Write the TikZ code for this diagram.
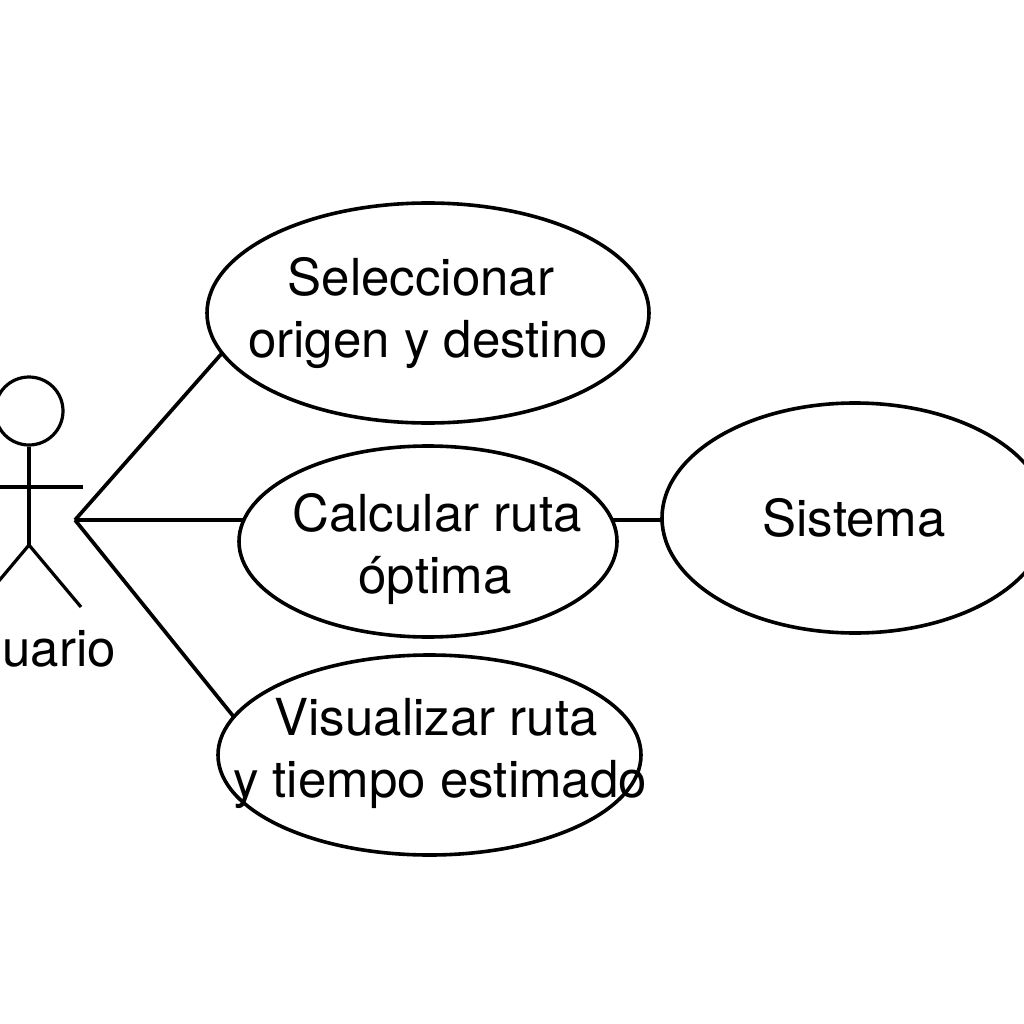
\documentclass[tikz,border=0pt]{standalone}
\usepackage{fontspec}
\setmainfont{TeX Gyre Heros}
\usetikzlibrary{shapes.geometric}
\tikzset{
  usecase/.style={ellipse,draw=black,line width=3.6pt,inner sep=0pt,outer sep=0pt},
  lbl/.style={anchor=base,inner sep=0pt,font=\fontsize{51}{60}\selectfont,text=black},
  conn/.style={draw=black,line width=3.7pt},
  stick/.style={draw=black,line width=3.2pt}
}
\begin{document}
\begin{tikzpicture}[x=1pt,y=-1pt]
\useasboundingbox[fill=white] (0,0) rectangle (1024,1024);
\clip (0,0) rectangle (1024,1024);
% actor
\node[circle,draw=black,line width=3.2pt,inner sep=0pt,minimum size=68pt] (head) at (29,411) {};
\coordinate (hip) at (29,545);
\coordinate (armL) at (-25,487);
\coordinate (armR) at (83,487);
\coordinate (legL) at (-23,607);
\coordinate (legR) at (81,607);
\coordinate (hub) at (75,520);
\draw[stick] (head.south) -- (hip);
\draw[stick] (armL) -- (armR);
\draw[stick] (legL) -- (hip) -- (legR);
\node[lbl] (actor) at (28,666) {Usuario};
% use cases
\node[usecase,minimum width=442pt,minimum height=220pt] (e1) at (428,313) {};
\node[usecase,minimum width=378pt,minimum height=191pt] (e2) at (428,541.5) {};
\node[usecase,minimum width=423pt,minimum height=200pt] (e3) at (429.5,755) {};
\node[usecase,minimum width=386pt,minimum height=230pt] (e4) at (855,518) {};
% connectors
\draw[conn] (hub) -- (e1.191.7);
\draw[conn] (hub) -- ([xshift=4pt]hub -| e2.west);
\draw[conn] (hub) -- (e3.169.5);
\draw[conn] ([xshift=-4pt]hub -| e2.east) -- (hub -| e4.west);
% labels
\node[lbl] (t1a) at (421,295) {Seleccionar};
\node[lbl] (t1b) at (428,357) {origen y destino};
\node[lbl] (t2a) at (437,531) {Calcular ruta};
\node[lbl] (t2b) at (435,593) {óptima};
\node[lbl] (t3a) at (436,735) {Visualizar ruta};
\node[lbl] (t3b) at (440,797) {y tiempo estimado};
\node[lbl] (t4) at (854,536) {Sistema};
\end{tikzpicture}
\end{document}
